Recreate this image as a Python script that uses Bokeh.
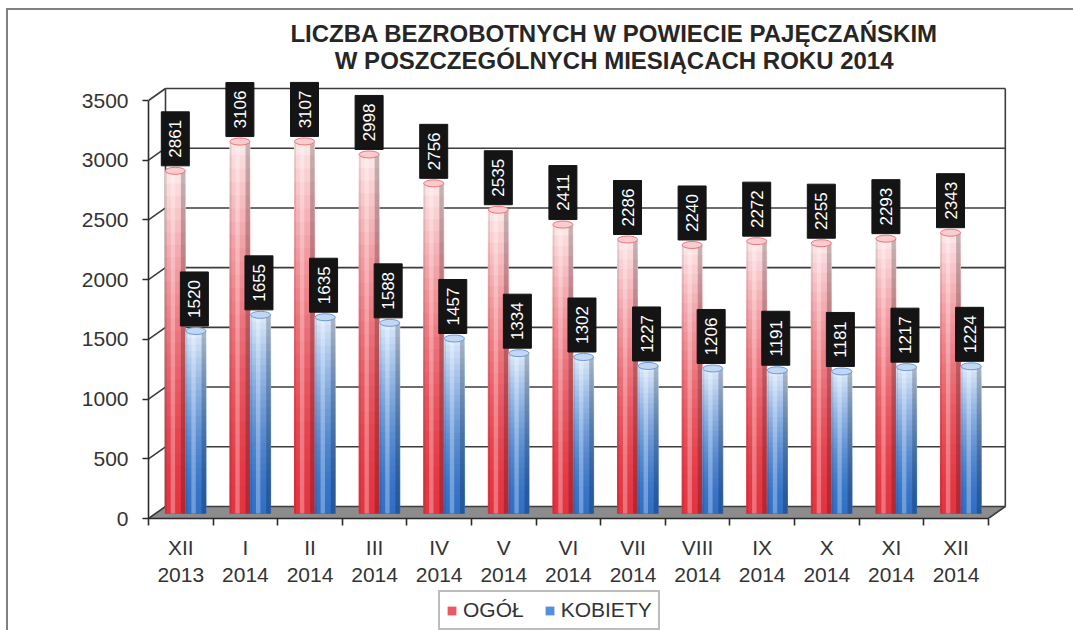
import math
from bokeh.plotting import figure
from bokeh.layouts import column
from bokeh.models import ColumnDataSource, FixedTicker, Legend, LegendItem, Range1d
from bokeh.core.properties import value
from bokeh.embed import file_html
from bokeh.resources import INLINE

# ---------------- data ----------------
months = ["XII", "I", "II", "III", "IV", "V", "VI", "VII", "VIII", "IX", "X", "XI", "XII"]
years = ["2013"] + ["2014"] * 12
ogol = [2861, 3106, 3107, 2998, 2756, 2535, 2411, 2286, 2240, 2272, 2255, 2293, 2343]
kobiety = [1520, 1655, 1635, 1588, 1457, 1334, 1302, 1227, 1206, 1191, 1181, 1217, 1224]
y_ticks = [0, 500, 1000, 1500, 2000, 2500, 3000, 3500]
series_names = ["OGÓŁ", "KOBIETY"]
title_lines = ["LICZBA BEZROBOTNYCH  W POWIECIE PAJĘCZAŃSKIM",
               "W POSZCZEGÓLNYCH  MIESIĄCACH ROKU 2014"]

# ---------------- geometry ----------------
W, H1, H2 = 1073, 590, 40
BL, BR, BT, BB = 148, 63, 15, 72
FW, FH = W - BL - BR, H1 - BT - BB
CAT_PX = 64.6
U = 3500 / 418.0          # data units per pixel (vertical)
XU = 1 / CAT_PX           # data units per pixel (horizontal)
x_end = FW * XU
y_end = FH * U
NCAT = len(months)
DX = 17 * XU
DY = 12 * U
FONT = "Liberation Sans"

p = figure(width=W, height=H1, output_backend="svg", toolbar_location=None,
           x_range=Range1d(0, x_end), y_range=Range1d(0, y_end),
           min_border_left=BL, min_border_right=BR, min_border_top=BT, min_border_bottom=BB)
p.outline_line_color = None
p.xgrid.visible = False
p.ygrid.visible = False
p.background_fill_color = "white"
p.border_fill_color = None

# ---------------- walls / floor ----------------
GRID = "#3c3c3c"
p.patch([0, NCAT, NCAT + DX, DX], [0, 0, DY, DY], fill_color="#8c8c8c", line_color="#6a6a6a", line_width=1)
p.segment(x0=[DX] * len(y_ticks), y0=[t + DY for t in y_ticks],
          x1=[NCAT + DX] * len(y_ticks), y1=[t + DY for t in y_ticks],
          line_color=GRID, line_width=1.6)
p.segment(x0=[0] * len(y_ticks), y0=y_ticks, x1=[DX] * len(y_ticks), y1=[t + DY for t in y_ticks],
          line_color=GRID, line_width=1.6)
p.segment(x0=[DX, NCAT + DX, NCAT], y0=[DY, DY, 0], x1=[DX, NCAT + DX, NCAT + DX],
          y1=[y_ticks[-1] + DY, y_ticks[-1] + DY, DY], line_color=GRID, line_width=1.6)

# ---------------- cylinders ----------------
def lerp(c1, c2, t):
    return "#%02x%02x%02x" % tuple(int(round(a + (b - a) * t)) for a, b in zip(c1, c2))

RED_SAT, RED_LIGHT = (228, 52, 64), (253, 232, 233)
BLUE_SAT, BLUE_LIGHT = (48, 112, 198), (220, 233, 250)
BW = 0.31
OFF_RED, OFF_BLUE = 0.415, 0.735
BASE = 42
NSEG = 28

def cylinders(vals, off, sat, light):
    seg = dict(x=[], bottom=[], top=[], color=[])
    xs, tops = [], []
    for i, v in enumerate(vals):
        x = i + off
        top = v + DY / 2
        xs.append(x)
        tops.append(top)
        for k in range(NSEG):
            b = BASE + (top - BASE) * k / NSEG
            t2 = BASE + (top - BASE) * (k + 1) / NSEG
            f = ((k + 0.5) / NSEG) ** 1.6
            seg["x"].append(x)
            seg["bottom"].append(b)
            seg["top"].append(t2 + 1)
            seg["color"].append(lerp(sat, light, f))
    p.vbar(x="x", bottom="bottom", top="top", width=BW, color="color", source=ColumnDataSource(seg))
    p.vbar(x=[x - 0.12 * BW for x in xs], bottom=[BASE] * len(xs), top=tops, width=0.22 * BW,
           fill_color="white", fill_alpha=0.3, line_color=None)
    p.vbar(x=[x + 0.39 * BW for x in xs], bottom=[BASE] * len(xs), top=tops, width=0.22 * BW,
           fill_color="black", fill_alpha=0.22, line_color=None)
    p.vbar(x=[x - 0.46 * BW for x in xs], bottom=[BASE] * len(xs), top=tops, width=0.08 * BW,
           fill_color="black", fill_alpha=0.1, line_color=None)
    p.ellipse(x=xs, y=tops, width=BW, height=7 * U, fill_color=lerp(sat, light, 0.85),
              line_color=lerp(sat, light, 0.35), line_width=1)
    return xs, tops

rx, rtop = cylinders(ogol, OFF_RED, RED_SAT, RED_LIGHT)
bx, btop = cylinders(kobiety, OFF_BLUE, BLUE_SAT, BLUE_LIGHT)

# ---------------- value labels ----------------
def value_labels(xs, tops, vals, dx):
    cx = [x + dx for x in xs]
    cy = [t + (5 + 27) * U for t in tops]
    p.rect(x=cx, y=cy, width=28, height=54, width_units="screen", height_units="screen",
           fill_color="#141414", line_color="#141414")
    p.text(x=cx, y=cy, text=[str(v) for v in vals], angle=math.pi / 2,
           text_color="white", text_font=value(FONT), text_font_size="17px",
           text_align="center", text_baseline="middle")

value_labels(rx, rtop, ogol, 0.0)
value_labels(bx, btop, kobiety, -0.025)

# ---------------- title ----------------
p.text(x=[(617 - 148) * XU] * 2, y=[y_end - 18 * U, y_end - 45 * U], text=title_lines,
       text_font=value(FONT), text_font_style="bold", text_font_size="24px",
       text_color="#262626", text_align="center", text_baseline="middle")

# ---------------- axes ----------------
ya = p.yaxis[0]
ya.ticker = FixedTicker(ticks=y_ticks)
ya.bounds = (0, 3500)
ya.major_tick_out = 6
ya.major_tick_in = 0
ya.minor_tick_out = 0
ya.minor_tick_in = 0
ya.major_label_standoff = 14
ya.major_label_text_font = FONT
ya.major_label_text_font_size = "21px"
ya.major_label_text_color = "#333333"
ya.axis_line_color = "#2a2a2a"
ya.axis_line_width = 1.6
ya.major_tick_line_color = "#2a2a2a"
ya.major_tick_line_width = 1.6

xa = p.xaxis[0]
centers = [i + 0.5 for i in range(NCAT)]
xa.ticker = FixedTicker(ticks=centers, minor_ticks=list(range(NCAT + 1)))
xa.bounds = (0, NCAT)
xa.major_label_overrides = {c: f"{m}\n{y}" for c, m, y in zip(centers, months, years)}
xa.major_tick_out = 0
xa.major_tick_in = 0
xa.minor_tick_out = 7
xa.minor_tick_in = 0
xa.minor_tick_line_color = "#2a2a2a"
xa.minor_tick_line_width = 1.6
xa.major_label_standoff = 10
xa.major_label_text_font = FONT
xa.major_label_text_font_size = "21px"
xa.major_label_text_color = "#333333"
xa.axis_line_color = "#2a2a2a"
xa.axis_line_width = 1.6

# ---------------- legend (separate strip below) ----------------
p2 = figure(width=W, height=H2, output_backend="svg", toolbar_location=None,
            x_range=Range1d(0, 1), y_range=Range1d(0, 1), x_axis_type=None, y_axis_type=None,
            min_border=0)
p2.outline_line_color = None
p2.border_fill_color = None
p2.background_fill_color = None
p2.xgrid.visible = False
p2.ygrid.visible = False
lr = p2.vbar(x=[5], top=[5], bottom=[4], width=0.1, fill_color="#ea5a63", line_color=None)
lb = p2.vbar(x=[5], top=[5], bottom=[4], width=0.1, fill_color="#5090dc", line_color=None)
legend = Legend(items=[LegendItem(label=series_names[0], renderers=[lr]),
                       LegendItem(label=series_names[1], renderers=[lb])],
                orientation="horizontal", location=(290, 0),
                label_text_font=FONT, label_text_font_size="21px", label_text_color="#333333",
                glyph_width=11, glyph_height=11, spacing=20, padding=6, margin=0,
                label_standoff=6, border_line_color="#7a7a7a", border_line_width=2,
                background_fill_color="white")
p2.add_layout(legend, "center")

layout = column(p, p2, spacing=0)
layout.styles = {"box-shadow": "inset 6px 8px 0 0 #ffffff, inset 8px 10px 0 0 #808080"}

open("out.html", "w").write(file_html(layout, INLINE))
